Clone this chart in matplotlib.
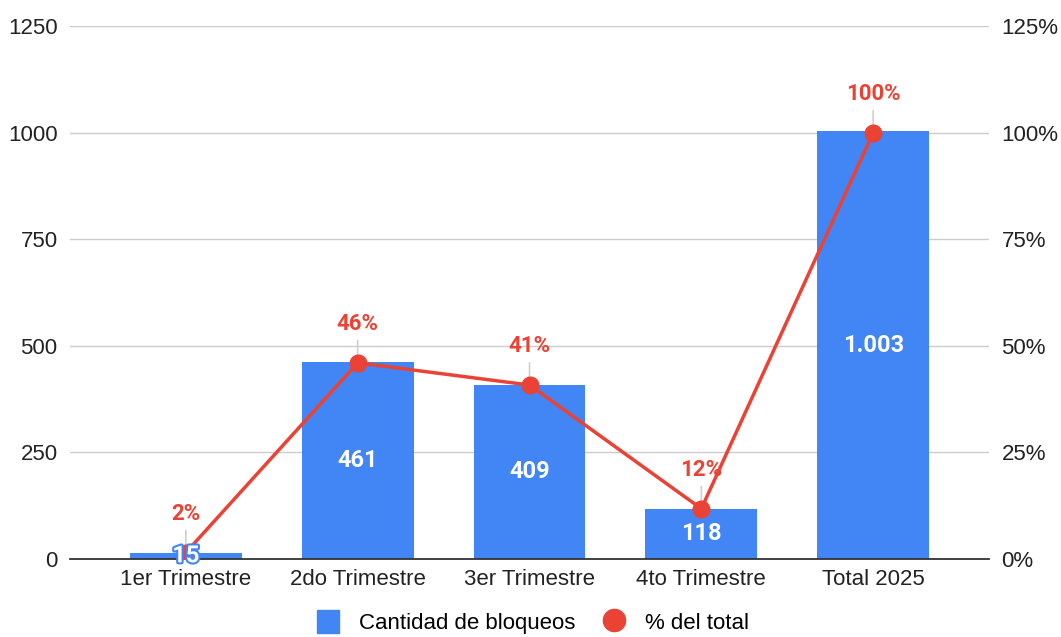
import matplotlib.pyplot as plt
import matplotlib.patheffects as pe
from matplotlib.lines import Line2D
from matplotlib.patches import Patch

categories = ['1er Trimestre', '2do Trimestre', '3er Trimestre', '4to Trimestre', 'Total 2025']
bloqueos = [15, 461, 409, 118, 1003]
bar_labels = ['15', '461', '409', '118', '1.003']
pct = [1.5, 46.0, 40.8, 11.8, 100.0]
pct_labels = ['2%', '46%', '41%', '12%', '100%']

blue = '#4285F4'
red = '#EA4335'

plt.rcParams['font.family'] = ['Liberation Sans', 'DejaVu Sans']
bold_font = ['Roboto', 'DejaVu Sans']

fig = plt.figure(figsize=(10.61, 6.37), dpi=100)
ax = fig.add_axes([70 / 1061, 78 / 637, 919 / 1061, 533 / 637])
ax2 = ax.twinx()

x = list(range(len(categories)))
ax.bar(x, bloqueos, width=0.65, color=blue, zorder=2)
ax.set_ylim(0, 1250)
ax.set_yticks([0, 250, 500, 750, 1000, 1250])
ax.set_xlim(-0.674, 4.674)
ax.set_xticks(x)
ax.set_xticklabels(categories)
ax.grid(axis='y', color='#cccccc', linewidth=1, zorder=0)
ax.set_axisbelow(True)

for s in ['top', 'left', 'right']:
    ax.spines[s].set_visible(False)
    ax2.spines[s].set_visible(False)
ax.spines['bottom'].set_color('#333333')
ax.spines['bottom'].set_linewidth(1.3)
ax2.spines['bottom'].set_visible(False)
ax.tick_params(length=0, labelsize=16, colors='#222222', pad=9)
ax.tick_params(axis='x', pad=7)
ax2.tick_params(length=0, labelsize=16, colors='#222222', pad=9)

ax2.set_ylim(0, 125)
ax2.set_yticks([0, 25, 50, 75, 100, 125])
ax2.set_yticklabels([f'{v}%' for v in [0, 25, 50, 75, 100, 125]])
ax2.plot(x, pct, color=red, linewidth=2.5, marker='o', markersize=12, zorder=4)

for xi, v, lab in zip(x, bloqueos, bar_labels):
    t = ax2.text(xi, v / 2, lab, transform=ax.transData, ha='center', va='center',
                 color='white', fontsize=17, fontweight='bold', family=bold_font, zorder=6)
    if v < 50:
        t.set_path_effects([pe.withStroke(linewidth=3, foreground=blue)])

for xi, p, lab in zip(x, pct, pct_labels):
    ax2.annotate('', xy=(xi, p), xytext=(0, 18), textcoords='offset points',
                 arrowprops=dict(arrowstyle='-', color='#d0d0d0', lw=1.2), zorder=1)
    ax2.annotate(lab, xy=(xi, p), xytext=(0, 20), textcoords='offset points',
                 ha='center', va='bottom', color=red, fontsize=16, fontweight='bold',
                 family=bold_font)

handles = [Patch(color=blue), Line2D([], [], color=red, marker='o', linestyle='None', markersize=16)]
fig.legend(handles, ['Cantidad de bloqueos', '% del total'], loc='center',
           bbox_to_anchor=(533 / 1061, 1 - 622 / 637), ncol=2, frameon=False,
           fontsize=16, handlelength=1.0, handleheight=1.2, columnspacing=1.2,
           handletextpad=0.9)

fig.savefig('out.png', dpi=100)
